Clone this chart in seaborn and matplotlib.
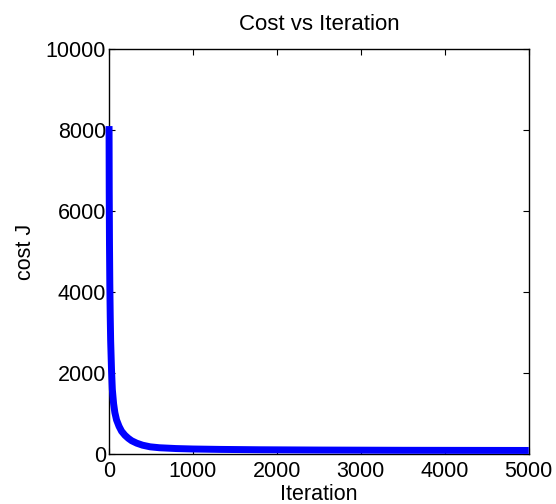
import numpy as np
import pandas as pd
import matplotlib
matplotlib.use("Agg")
import matplotlib.pyplot as plt
import seaborn as sns

# cost history (iteration, cost J)
iterations = [1, 3, 6, 10, 15, 20, 30, 40, 55, 70, 90, 120, 150, 190, 230,
              270, 330, 400, 490, 600, 800, 1000, 1320, 1800, 2500, 3500, 5000]
cost = [8100, 6500, 5200, 4200, 3400, 2800, 2100, 1600, 1250, 1030, 850, 690,
        570, 470, 395, 335, 275, 225, 185, 162, 142, 131, 121, 112, 105, 99, 95]

x_ticks = [0, 1000, 2000, 3000, 4000, 5000]
y_ticks = [0, 2000, 4000, 6000, 8000, 10000]

df = pd.DataFrame({"Iteration": iterations, "cost J": cost})

sns.set_theme(style="white")
plt.rcParams['font.family'] = ['Liberation Sans', 'DejaVu Sans']

fig = plt.figure(figsize=(5.56, 5.04), dpi=100)
ax = fig.add_axes([0.196, 0.0986, 0.755, 0.804])

sns.lineplot(data=df, x="Iteration", y="cost J", ax=ax, color="#0000ff",
             linewidth=5, clip_on=False, zorder=5,
             solid_capstyle="butt", solid_joinstyle="miter")

ax.set_xlim(0, 5000)
ax.set_ylim(0, 10000)
ax.set_xticks(x_ticks)
ax.set_yticks(y_ticks)
ax.set_xticklabels([str(t) for t in x_ticks])
ax.set_yticklabels([str(t) for t in y_ticks])

for s in ax.spines.values():
    s.set_visible(True)
    s.set_color("black")
    s.set_linewidth(1.0)

ax.tick_params(axis="both", direction="in", length=4, width=0.8, color="black",
               top=True, right=True, bottom=True, left=True,
               labelsize=15.5, labelcolor="black")
ax.tick_params(axis="x", pad=5)
ax.tick_params(axis="y", pad=2)

ax.set_title("Cost vs Iteration", fontsize=16, color="black", pad=14)
ax.set_xlabel("Iteration", fontsize=15.5, color="black", labelpad=1)
ax.set_ylabel("cost J", fontsize=15.5, color="black", labelpad=7)

fig.savefig("out.png", dpi=100)
